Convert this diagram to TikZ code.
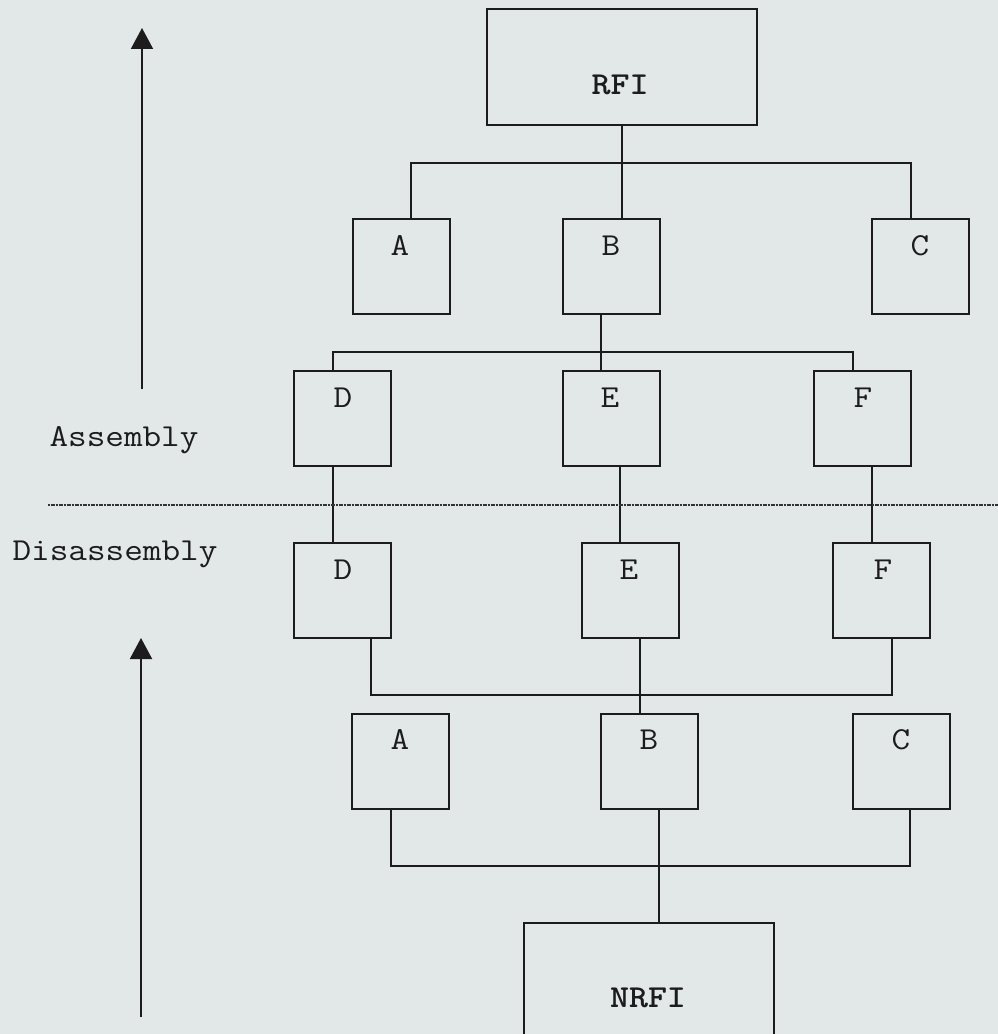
\documentclass[tikz,border=0pt]{standalone}
\usepackage{graphicx}
\usetikzlibrary{arrows.meta}
\definecolor{bg}{RGB}{226,232,231}
\definecolor{ln}{RGB}{28,28,28}
\newcommand{\tx}[1]{\scalebox{1.13}[1]{#1}}
\begin{document}
\begin{tikzpicture}[x=0.75pt,y=-0.75pt,
  box/.style={draw=ln, line width=1.5pt, minimum width=72.75pt, minimum height=71.25pt, inner sep=0pt, outer sep=0pt},
  lbl/.style={font=\fontsize{24pt}{28pt}\selectfont\ttfamily, text=ln, inner sep=0pt, anchor=base},
  conn/.style={draw=ln, line width=1.5pt},
  sep/.style={draw=ln!90, line width=1.5pt, dash pattern=on 1.5pt off 0.5pt},
  uparrow/.style={conn, -{Triangle[length=15.75pt,width=16.5pt]}}]
\path[use as bounding box, fill=bg] (0,0) rectangle (998,1034);
\clip (0,0) rectangle (998,1034);

% boxes
\node[box, minimum width=202.5pt, minimum height=87pt] (RFI) at (622,67) {};
\node[box] (A1) at (401.5,266.5) {};
\node[box] (B1) at (611.5,266.5) {};
\node[box] (C1) at (920.5,266.5) {};
\node[box] (D1) at (342.5,418.5) {};
\node[box] (E1) at (611.5,418.5) {};
\node[box] (F1) at (862.5,418.5) {};
\node[box] (D2) at (342.5,590.5) {};
\node[box] (E2) at (630.5,590.5) {};
\node[box] (F2) at (881.5,590.5) {};
\node[box] (A2) at (400.5,761.5) {};
\node[box] (B2) at (649.5,761.5) {};
\node[box] (C2) at (901.5,761.5) {};
\node[box, minimum width=187.5pt, minimum height=120pt] (NRFI) at (649,1003) {};

% texts
\node[lbl, font=\fontsize{24pt}{28pt}\selectfont\ttfamily\bfseries] (tRFI) at (620,95) {\tx{RFI}};
\node[lbl] (tA1) at (400,256) {\tx{A}};
\node[lbl] (tB1) at (611,256) {\tx{B}};
\node[lbl] (tC1) at (920,256) {\tx{C}};
\node[lbl] (tD1) at (343,407) {\tx{D}};
\node[lbl] (tE1) at (610,407) {\tx{E}};
\node[lbl] (tF1) at (863,407) {\tx{F}};
\node[lbl] (tD2) at (343,579) {\tx{D}};
\node[lbl] (tE2) at (629,579) {\tx{E}};
\node[lbl] (tF2) at (883,579) {\tx{F}};
\node[lbl] (tA2) at (400,749) {\tx{A}};
\node[lbl] (tB2) at (649,749) {\tx{B}};
\node[lbl] (tC2) at (901,749) {\tx{C}};
\node[lbl, font=\fontsize{24pt}{28pt}\selectfont\ttfamily\bfseries] (tNRFI) at (648,1007) {\tx{NRFI}};
\node[lbl] (asm) at (124,446) {\tx{Assembly}};
\node[lbl] (dis) at (115,560) {\tx{Disassembly}};

% junction coordinates
\coordinate (t1) at (411,163);
\coordinate (t2) at (911,163);
\coordinate (m1) at (333,352);
\coordinate (m2) at (853,352);
\coordinate (mb) at (601,352);
\coordinate (xe) at (620,505);
\coordinate (xf) at (872,505);
\coordinate (l1) at (371,695);
\coordinate (l2) at (892,695);
\coordinate (lb) at (640,695);
\coordinate (k1) at (391,866);
\coordinate (k2) at (910,866);
\coordinate (kb) at (659,866);

% assembly tree
\draw[conn] (RFI.south) -- (RFI.south |- B1.north);
\draw[conn] (A1.north -| t1) -- (t1) -- (t2) -- (C1.north -| t2);
\draw[conn] (B1.south -| mb) -- (E1.north -| mb);
\draw[conn] (D1.north -| m1) -- (m1) -- (m2) -- (F1.north -| m2);

% crossing links
\draw[conn] (D1.south -| m1) -- (D2.north -| m1);
\draw[conn] (E1.south -| xe) -- (E2.north -| xe);
\draw[conn] (F1.south -| xf) -- (F2.north -| xf);

% disassembly tree
\draw[conn] (D2.south -| l1) -- (l1) -- (l2) -- (F2.south -| l2);
\draw[conn] (E2.south -| lb) -- (B2.north -| lb);
\draw[conn] (A2.south -| k1) -- (k1) -- (k2) -- (C2.south -| k2);
\draw[conn] (B2.south -| kb) -- (NRFI.north -| kb);

% separator
\coordinate (s1) at (48,505);
\coordinate (s2) at (998,505);
\draw[sep] (s1) -- (s2);

% arrows
\coordinate (a1s) at (142,389);
\coordinate (a1e) at (142,28);
\coordinate (a2s) at (141,1017);
\coordinate (a2e) at (141,638);
\draw[uparrow] (a1s) -- (a1e);
\draw[uparrow] (a2s) -- (a2e);
\end{tikzpicture}
\end{document}
